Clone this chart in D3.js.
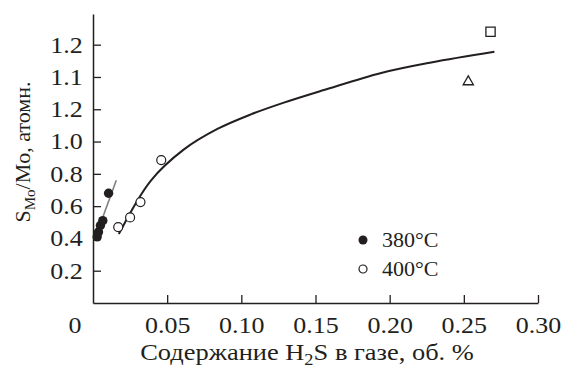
<!DOCTYPE html>
<html>
<head>
<meta charset="utf-8">
<script src="https://cdn.jsdelivr.net/npm/d3@7"></script>
<style>
  body { margin: 0; background: #fff; }
  text { font-family: "Liberation Serif", "Times New Roman", serif; fill: #231f20; }
</style>
</head>
<body>
<div id="chart"></div>
<script>
// tick values and the labels printed on the original (the y labels are printed as in the source figure)
const xTicks = [0.05, 0.10, 0.15, 0.20, 0.25, 0.30];
const xTickLabels = ["0.05", "0.10", "0.15", "0.20", "0.25", "0.30"];
const yTicks = [0.2, 0.4, 0.6, 0.8, 1.0, 1.2, 1.4, 1.6];
const yTickLabels = ["0.2", "0.4", "0.6", "0.8", "1.0", "1.2", "1.1", "1.2"];

// 380°C points (filled)
const h2s380 = [0.0028, 0.0037, 0.0050, 0.0066, 0.0105];
const ratio380 = [0.41, 0.44, 0.48, 0.51, 0.68];
// 400°C points (open)
const h2s400 = [0.017, 0.025, 0.032, 0.046];
const ratio400 = [0.47, 0.53, 0.625, 0.885];
// extra points
const squareX = 0.268, squareY = 1.68;
const triangleX = 0.253, triangleY = 1.37;

// grey fit line for 380°C
const fit380X = [0.001, 0.0157];
const fit380Y = [0.39, 0.76];
// black fit curve for 400°C
const fit400X = [0.0174, 0.0389, 0.0611, 0.0839, 0.1064, 0.1287, 0.1557, 0.1943, 0.2280, 0.2706];
const fit400Y = [0.427, 0.757, 0.950, 1.078, 1.168, 1.241, 1.319, 1.425, 1.490, 1.556];

const W = 563, H = 368;
const svg = d3.select("#chart").append("svg")
    .attr("width", W)
    .attr("height", H);

const x = d3.scaleLinear().domain([0, 0.30]).range([93, 538]);
const y = d3.scaleLinear().domain([0, 1.79]).range([303, 14]);

const fs = 23;
const sx = 1.13; // the figure's lettering is a little wider than plain Times

// x axis
const xAxis = d3.axisBottom(x)
    .tickValues(xTicks)
    .tickFormat((d, i) => xTickLabels[i])
    .tickSize(-8)
    .tickSizeOuter(0)
    .tickPadding(14);
const gx = svg.append("g")
    .attr("transform", "translate(0," + y(0) + ")")
    .call(xAxis);

// y axis
const yAxis = d3.axisLeft(y)
    .tickValues(yTicks)
    .tickFormat((d, i) => yTickLabels[i])
    .tickSize(-8)
    .tickSizeOuter(0)
    .tickPadding(9);
const gy = svg.append("g")
    .attr("transform", "translate(" + x(0) + ",0)")
    .call(yAxis);

[gx, gy].forEach(g => {
    g.select(".domain").attr("stroke", "#231f20").attr("stroke-width", 1.5);
    g.selectAll(".tick line").attr("stroke", "#231f20").attr("stroke-width", 1.3);
    g.selectAll(".tick text")
        .attr("fill", "#231f20")
        .attr("transform", "scale(" + sx + ",1)")
        .style("font-family", "'Liberation Serif', serif")
        .style("font-size", fs + "px");
});

// origin label
svg.append("text")
    .attr("transform", "translate(75,333) scale(" + sx + ",1)")
    .attr("text-anchor", "middle")
    .style("font-size", fs + "px")
    .text("0");

// axis titles
const xt = svg.append("text")
    .attr("transform", "translate(307,360) scale(1.15,1)")
    .attr("text-anchor", "middle")
    .style("font-size", fs + "px");
xt.append("tspan").text("Содержание H");
xt.append("tspan").attr("dy", 5).style("font-size", "16px").text("2");
xt.append("tspan").attr("dy", -5).text("S в газе, об. %");

const yt = svg.append("text")
    .attr("transform", "translate(30,152) rotate(-90)")
    .attr("text-anchor", "middle")
    .style("font-size", "22px");
yt.append("tspan").text("S");
yt.append("tspan").attr("dy", 5).style("font-size", "15px").text("Mo");
yt.append("tspan").attr("dy", -5).text("/Mo, атомн.");

// fit lines
const line = d3.line()
    .x(d => x(d[0]))
    .y(d => y(d[1]));

svg.append("path")
    .datum(d3.zip(fit380X, fit380Y))
    .attr("d", line)
    .attr("fill", "none")
    .attr("stroke", "#808080")
    .attr("stroke-width", 1.6);

svg.append("path")
    .datum(d3.zip(fit400X, fit400Y))
    .attr("d", line.curve(d3.curveCatmullRom))
    .attr("fill", "none")
    .attr("stroke", "#231f20")
    .attr("stroke-width", 2);

// points
svg.selectAll(".p380")
    .data(d3.zip(h2s380, ratio380))
    .enter()
    .append("circle")
    .attr("class", "p380")
    .attr("cx", d => x(d[0]))
    .attr("cy", d => y(d[1]))
    .attr("r", 4.7)
    .attr("fill", "#231f20");

svg.selectAll(".p400")
    .data(d3.zip(h2s400, ratio400))
    .enter()
    .append("circle")
    .attr("class", "p400")
    .attr("cx", d => x(d[0]))
    .attr("cy", d => y(d[1]))
    .attr("r", 4.5)
    .attr("fill", "#fff")
    .attr("stroke", "#231f20")
    .attr("stroke-width", 1.2);

svg.append("path")
    .attr("d", d3.symbol(d3.symbolSquare, 85)())
    .attr("transform", "translate(" + x(squareX) + "," + y(squareY) + ")")
    .attr("fill", "none")
    .attr("stroke", "#231f20")
    .attr("stroke-width", 1.3);

svg.append("path")
    .attr("d", d3.symbol(d3.symbolTriangle, 45)())
    .attr("transform", "translate(" + x(triangleX) + "," + y(triangleY) + ")")
    .attr("fill", "none")
    .attr("stroke", "#231f20")
    .attr("stroke-width", 1.3);

// legend
const legend = svg.append("g").attr("transform", "translate(363,240)");
legend.append("circle").attr("r", 4.5).attr("fill", "#231f20");
legend.append("text").attr("transform", "translate(19,7) scale(1.1,1)").style("font-size", "20px").text("380°C");
legend.append("circle").attr("cy", 29).attr("r", 4).attr("fill", "#fff")
    .attr("stroke", "#231f20").attr("stroke-width", 1.2);
legend.append("text").attr("transform", "translate(19,36) scale(1.1,1)").style("font-size", "20px").text("400°C");
</script>
</body>
</html>
